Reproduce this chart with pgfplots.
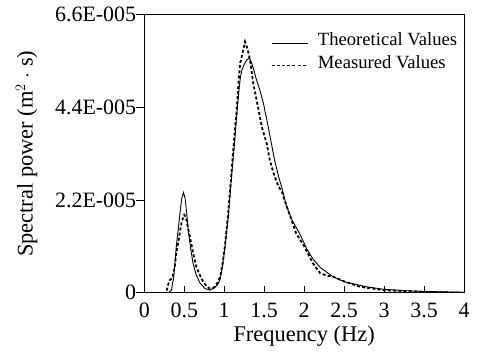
\documentclass[border=0pt]{standalone}
\usepackage{fontspec}
\setmainfont{Liberation Serif}
\usepackage{pgfplots}
\pgfplotsset{compat=1.18}
\begin{document}
\begin{tikzpicture}
\path[use as bounding box] (-144.3bp,-65.3bp) rectangle (334.7bp,292.7bp);
\begin{axis}[
  scale only axis, width=319.7bp, height=278bp,
  xmin=0, xmax=4, ymin=0, ymax=6.6,
  axis line style={line width=1bp},
  xtick={0,0.5,1,1.5,2,2.5,3,3.5,4},
  xticklabels={0,0.5,1,1.5,2,2.5,3,3.5,4},
  xtick pos=bottom, ytick pos=left,
  tick align=inside,
  major tick length=7bp,
  minor tick length=4.5bp,
  tick style={line width=0.9bp, black},
  ytick=\empty,
  minor ytick={1.1,3.3,5.5},
  extra y ticks={0,2.2,4.4,6.6},
  extra y tick labels={0,2.2E-005,4.4E-005,6.6E-005},
  extra y tick style={tick align=outside, major tick length=8bp},
  tick label style={font=\fontsize{22}{26}\selectfont, inner sep=0pt},
  xticklabel style={anchor=north, yshift=-10.3bp},
  yticklabel style={anchor=east, xshift=0bp},
  label style={font=\fontsize{22.5}{27}\selectfont},
  xlabel={Frequency (Hz)},
  ylabel={Spectral power (m$^{2}$ $\cdot$ s)},
  xlabel style={at={(axis description cs:0.5,-0.158)}, anchor=center},
  ylabel style={at={(axis description cs:-0.368,0.5)}, anchor=center, rotate=0},
  legend style={draw=none, fill=none, at={(axis description cs:0.3945,0.939)}, anchor=north west,
    font=\fontsize{18.7}{22}\selectfont, row sep=6bp, inner sep=0pt,
    nodes={inner xsep=5.5bp, inner ysep=1bp}},
  legend cell align=left,
  legend image code/.code={\draw[#1] (0bp,-3bp) -- (36bp,-3bp); \path (0bp,3bp) (40bp,3bp);},
]
\addplot[black, line width=0.9bp] coordinates {
(0,0) (0.30,0) (0.34,0.06) (0.37,0.4) (0.40,1.09) (0.43,1.6) (0.45,1.95) (0.47,2.25)
(0.49,2.38) (0.51,2.25) (0.53,1.9) (0.55,1.49) (0.58,1.05) (0.61,0.70) (0.65,0.42)
(0.70,0.22) (0.76,0.10) (0.82,0.06) (0.88,0.12) (0.92,0.2) (0.95,0.32) (0.98,0.65)
(1.01,1.09) (1.05,1.8) (1.08,2.5) (1.11,3.15) (1.135,3.7) (1.155,4.18) (1.18,4.72)
(1.20,5.08) (1.22,5.28) (1.25,5.42) (1.28,5.52) (1.31,5.57) (1.33,5.52) (1.36,5.35)
(1.40,5.08) (1.45,4.78) (1.49,4.5) (1.55,3.94) (1.63,3.15) (1.68,2.76)
(1.72,2.5) (1.78,2.05) (1.85,1.72) (1.95,1.38) (2.03,1.05) (2.11,0.8) (2.2,0.6)
(2.36,0.38) (2.5,0.26) (2.78,0.14) (3.0,0.08) (3.25,0.05) (3.5,0.03) (4.0,0.01)
};
\addlegendentry{Theoretical Values}
\addplot[black, line width=1.8bp, dash pattern=on 3bp off 2.2bp] coordinates {
(0.28,0.05) (0.30,0.2) (0.32,0.3) (0.35,0.35) (0.38,0.6) (0.40,0.94) (0.43,1.25)
(0.45,1.49) (0.47,1.7) (0.50,1.85) (0.52,1.8) (0.54,1.6) (0.57,1.33) (0.61,0.95)
(0.65,0.62) (0.70,0.4) (0.74,0.25) (0.78,0.15) (0.82,0.10) (0.87,0.12) (0.92,0.25)
(0.95,0.38) (0.98,0.7) (1.01,1.13) (1.05,1.9) (1.08,2.6) (1.11,3.3) (1.135,3.9)
(1.155,4.3) (1.18,5.05) (1.20,5.45) (1.23,5.7) (1.26,5.96) (1.29,5.8) (1.32,5.55)
(1.34,5.3) (1.36,5.0) (1.38,4.81) (1.43,4.34) (1.47,3.94) (1.53,3.55) (1.57,3.15)
(1.63,2.76) (1.68,2.52) (1.72,2.4) (1.80,1.95) (1.90,1.41) (2.0,1.1) (2.11,0.70)
(2.2,0.46) (2.3,0.40) (2.36,0.38) (2.5,0.27) (2.7,0.14) (3.0,0.06) (3.5,0.02) (4.0,0.0)
};
\addlegendentry{Measured Values}
\end{axis}
\end{tikzpicture}
\end{document}
